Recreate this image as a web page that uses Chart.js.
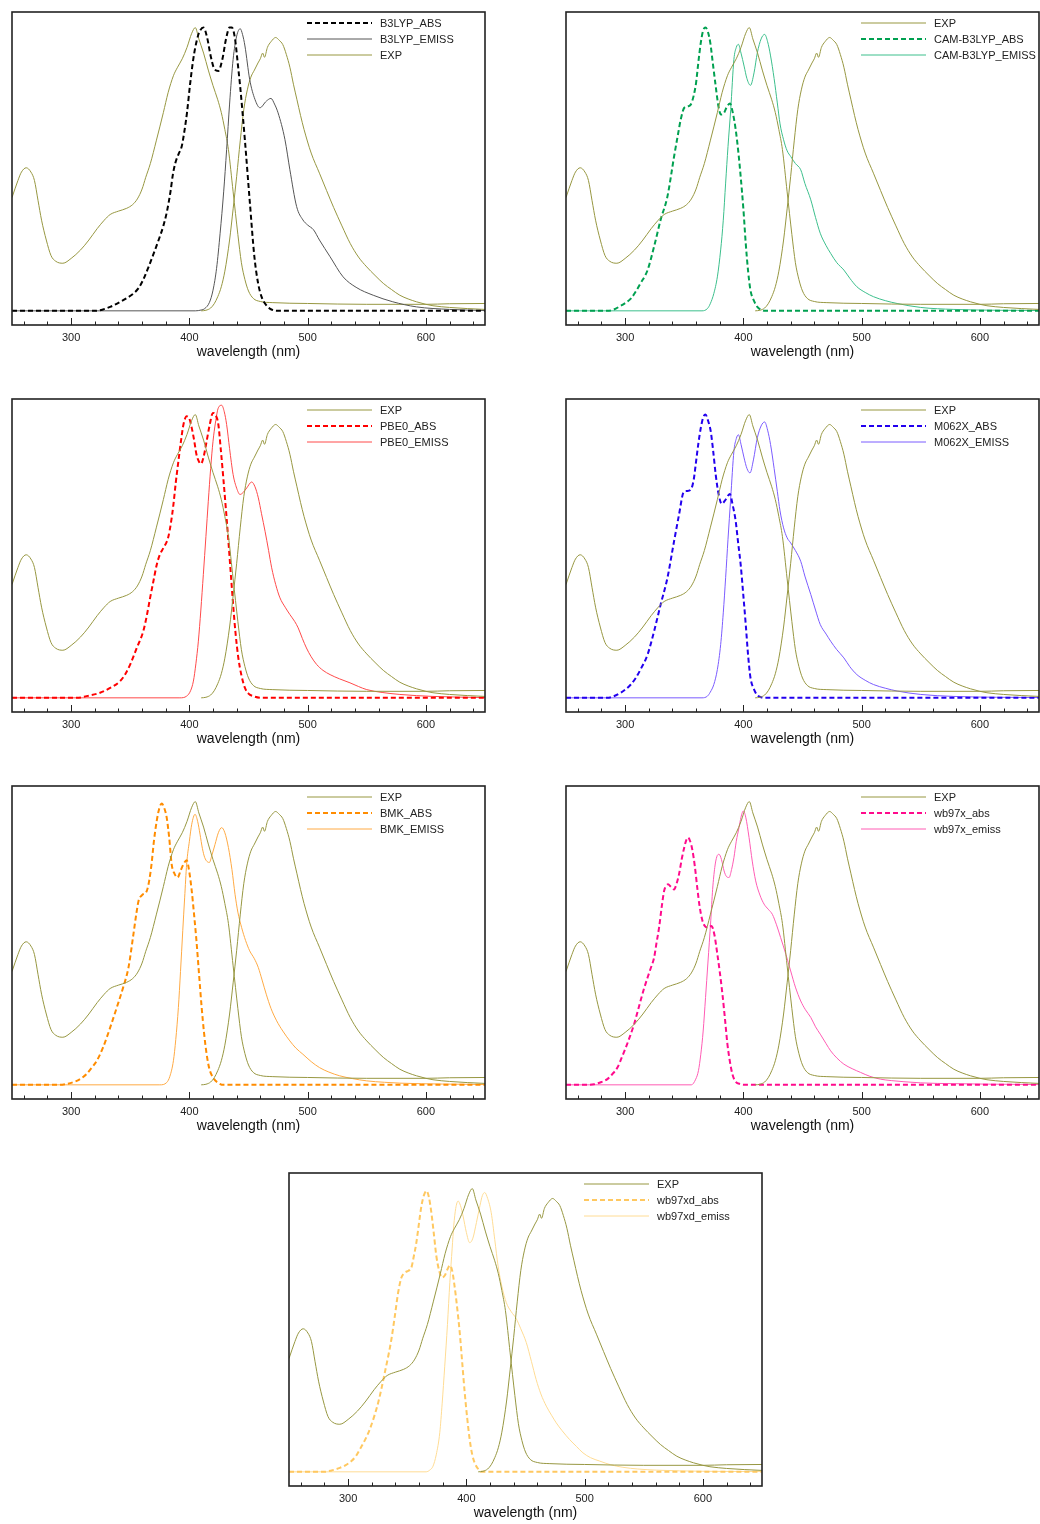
<!DOCTYPE html>
<html>
<head>
<meta charset="utf-8">
<script src="https://cdn.jsdelivr.net/npm/chart.js@4.4.1/dist/chart.umd.min.js"></script>
<style>
  html, body { margin: 0; padding: 0; background: #fff; overflow: hidden; }
  body { width: 1040px; height: 1524px; position: relative; }
  canvas { position: absolute; }
</style>
</head>
<body>
<canvas id="c1" width="493" height="371" style="left:2px;top:2px"></canvas>
<canvas id="c2" width="493" height="371" style="left:556px;top:2px"></canvas>
<canvas id="c3" width="493" height="371" style="left:2px;top:389px"></canvas>
<canvas id="c4" width="493" height="371" style="left:556px;top:389px"></canvas>
<canvas id="c5" width="493" height="371" style="left:2px;top:776px"></canvas>
<canvas id="c6" width="493" height="371" style="left:556px;top:776px"></canvas>
<canvas id="c7" width="493" height="371" style="left:279px;top:1163px"></canvas>
<script>
// axis
const xTicks = [300, 400, 500, 600];
const xMinorTicks = [260, 280, 300, 320, 340, 360, 380, 400, 420, 440, 460, 480, 500, 520, 540, 560, 580, 600, 620, 640];

// experimental spectrum (absorption + emission), [wavelength nm, normalised intensity]
const expAbs = [[250,0.40],[255,0.46],[258,0.49],[262,0.505],[266,0.49],[269,0.46],[272,0.39],[275,0.32],[279,0.25],[283,0.195],[287,0.175],[293,0.168],[300,0.185],[308,0.215],[315,0.25],[322,0.29],[328,0.32],[333,0.34],[340,0.352],[347,0.362],[352,0.375],[356,0.395],[360,0.43],[363,0.47],[367,0.52],[372,0.6],[378,0.7],[382,0.77],[386.5,0.83],[390,0.86],[394,0.89],[398,0.93],[402,0.98],[405,1.0],[408,0.96],[412,0.91],[416,0.85],[420,0.795],[424,0.745],[427,0.70],[430,0.64],[433,0.57],[437,0.42],[441,0.27],[444,0.17],[447,0.11],[450,0.07],[454,0.044],[460,0.033],[470,0.029],[500,0.026],[550,0.023],[600,0.023],[620,0.025],[650,0.026]];
const expEm = [[410,0],[414,0.002],[418,0.01],[421,0.025],[424,0.05],[427,0.085],[430,0.14],[434,0.25],[437,0.36],[440,0.475],[443,0.6],[446,0.71],[449,0.78],[452,0.825],[455,0.85],[458,0.875],[460,0.89],[462,0.91],[463.5,0.895],[466,0.93],[469,0.95],[473,0.965],[476,0.955],[479,0.94],[482,0.905],[485,0.86],[488,0.8],[491,0.745],[494,0.69],[497,0.64],[503,0.557],[510,0.486],[516,0.425],[522,0.365],[529,0.3],[536,0.238],[543,0.19],[550,0.155],[557,0.125],[564,0.097],[571,0.075],[578,0.055],[585,0.042],[592,0.032],[600,0.023],[606,0.018],[620,0.012],[635,0.008],[650,0.005]];

// computed spectra
const b3lypAbs = [[250,0],[320,0],[327,0.005],[333,0.014],[340,0.028],[347,0.045],[353,0.062],[357,0.08],[361,0.11],[365,0.15],[369.6,0.2],[374,0.25],[378,0.3],[381,0.35],[384,0.42],[386,0.48],[388,0.52],[391,0.555],[393.5,0.58],[396,0.64],[398,0.7],[400.6,0.8],[403,0.88],[405,0.93],[408,0.98],[412,1.0],[415,0.965],[418,0.9],[421,0.855],[424.5,0.847],[428,0.89],[431,0.96],[434,1.0],[436,1.0],[438.6,0.96],[441,0.87],[443,0.79],[447,0.6],[451,0.39],[455,0.19],[458,0.1],[461,0.05],[465,0.02],[468,0.008],[474,0],[650,0]];
const b3lypEm = [[250,0],[405,0],[410,0.003],[413,0.008],[417,0.03],[420,0.073],[423,0.15],[426,0.274],[429,0.42],[431.5,0.569],[434,0.73],[437,0.888],[440,0.97],[443,0.996],[445,0.975],[447,0.935],[451,0.817],[455.5,0.746],[459.7,0.717],[465,0.74],[469,0.75],[472,0.73],[475,0.699],[480.8,0.605],[485,0.498],[490.7,0.368],[496,0.321],[500,0.303],[505,0.286],[510,0.25],[519,0.191],[530,0.12],[541,0.083],[555.5,0.055],[572,0.032],[592,0.014],[620,0.005],[650,0.001]];
const camAbs = [[250,0],[285,0],[290,0.004],[296,0.017],[301,0.03],[305,0.044],[309,0.068],[313,0.097],[319,0.144],[324.5,0.227],[330,0.321],[335.8,0.404],[341.4,0.545],[345,0.63],[347,0.675],[350,0.717],[353,0.722],[355.5,0.728],[358,0.76],[360,0.805],[362,0.88],[364,0.947],[366,0.99],[368,1.0],[370,0.985],[372,0.947],[374,0.88],[376.6,0.793],[379,0.72],[381,0.693],[383.7,0.699],[386,0.72],[388.7,0.732],[391,0.7],[393.5,0.64],[396,0.55],[397.7,0.475],[400,0.36],[402,0.238],[404,0.14],[406,0.073],[409,0.035],[411.8,0.014],[415,0.004],[418,0],[650,0]];
const camEm = [[250,0],[365,0],[369.6,0.008],[372,0.025],[375,0.061],[378,0.12],[380.8,0.215],[383,0.32],[385,0.451],[387,0.58],[389.3,0.711],[392,0.888],[394,0.93],[395.8,0.941],[398,0.91],[400.6,0.864],[403,0.82],[406,0.796],[409,0.84],[411.8,0.911],[415,0.96],[418,0.976],[420.5,0.95],[423,0.9],[426,0.82],[428.7,0.734],[431,0.66],[434,0.604],[437,0.565],[440,0.545],[444,0.52],[448.5,0.498],[452,0.45],[457,0.392],[461,0.33],[465,0.274],[470,0.23],[473.8,0.203],[479,0.17],[485,0.144],[490,0.115],[496,0.085],[503,0.065],[510,0.05],[520,0.036],[530,0.026],[550,0.012],[578,0.005],[650,0.001]];
const pbe0Abs = [[250,0],[305,0],[313,0.006],[324.5,0.018],[333,0.035],[341.4,0.059],[346,0.085],[350,0.118],[355.5,0.176],[361,0.235],[364,0.29],[366.8,0.353],[369.5,0.41],[372.4,0.47],[375,0.505],[378,0.529],[382,0.565],[384.5,0.62],[386.5,0.682],[388.5,0.76],[390.7,0.835],[393,0.91],[395,0.965],[397.7,0.994],[400,0.985],[402,0.953],[404,0.91],[406,0.859],[408,0.835],[409.8,0.826],[412,0.85],[414.6,0.906],[417,0.96],[420,1.006],[422,1.0],[424.5,0.965],[426.5,0.88],[428.7,0.776],[431,0.66],[433,0.553],[435,0.44],[437,0.329],[439,0.23],[441.4,0.141],[444,0.08],[447,0.035],[450,0.015],[454,0.006],[462,0],[650,0]];
const pbe0Em = [[250,0],[392,0],[397.7,0.006],[401,0.025],[403.4,0.059],[405.5,0.12],[407.6,0.2],[409.7,0.31],[411.8,0.435],[414,0.57],[416,0.694],[418,0.81],[420,0.906],[422,0.97],[424.5,1.024],[427.3,1.033],[429.5,1.01],[431.5,0.965],[434,0.88],[437,0.788],[440,0.74],[442.8,0.718],[445.5,0.725],[448.5,0.741],[452.7,0.762],[455.5,0.745],[458.3,0.706],[461,0.65],[464,0.588],[467,0.52],[469.6,0.459],[473,0.4],[476.6,0.353],[481,0.32],[485,0.294],[489,0.27],[492,0.247],[495.5,0.21],[499,0.176],[503,0.145],[507.6,0.118],[513,0.097],[519,0.082],[527,0.067],[535.8,0.053],[543,0.04],[550,0.029],[563,0.019],[578,0.012],[606,0.005],[650,0.001]];
const m062xAbs = [[250,0],[285,0],[290,0.005],[296.3,0.018],[301,0.032],[304.8,0.047],[309,0.07],[313,0.1],[319,0.153],[324.5,0.235],[330,0.329],[335.8,0.424],[341.4,0.553],[345.6,0.647],[349.3,0.724],[352,0.73],[355.5,0.735],[358,0.77],[359.7,0.824],[362,0.9],[364,0.953],[366,0.99],[368,1.0],[370,0.98],[372.4,0.941],[374.5,0.87],[376.6,0.788],[379,0.72],[381.7,0.685],[385,0.7],[388.5,0.72],[391,0.68],[393.5,0.624],[395.5,0.55],[397.7,0.471],[400,0.36],[402,0.259],[404,0.15],[406,0.071],[409,0.03],[411.8,0.009],[415,0.002],[418,0],[650,0]];
const m062xEm = [[250,0],[365,0],[369.6,0.006],[372,0.02],[375,0.047],[378,0.1],[380.8,0.188],[383,0.3],[385,0.424],[387,0.56],[389.3,0.706],[392,0.871],[394,0.915],[395.8,0.929],[398,0.895],[400.6,0.847],[403,0.81],[405.6,0.794],[408.5,0.84],[411.8,0.918],[415,0.96],[418,0.974],[420.5,0.945],[423,0.894],[426,0.81],[428.7,0.729],[431,0.66],[434,0.6],[437,0.565],[440,0.547],[444,0.52],[448.5,0.482],[452,0.43],[457,0.365],[461,0.31],[465,0.259],[470,0.225],[473.8,0.2],[479,0.17],[485,0.141],[490,0.11],[496,0.082],[503,0.062],[510,0.047],[520,0.034],[530,0.024],[550,0.012],[578,0.005],[650,0.001]];
const bmkAbs = [[250,0],[290,0],[296,0.003],[304.8,0.014],[309,0.024],[313,0.038],[317,0.058],[321.7,0.085],[327,0.132],[333,0.202],[338.6,0.273],[344,0.344],[348.5,0.414],[352.7,0.532],[355,0.6],[357,0.649],[360,0.67],[364,0.685],[366,0.72],[368,0.779],[370,0.86],[372.4,0.932],[374.5,0.975],[376.6,0.993],[378.5,0.98],[380.8,0.944],[383,0.87],[385,0.779],[387.5,0.745],[390,0.732],[392.5,0.755],[395,0.779],[397.7,0.793],[400,0.75],[402,0.685],[404,0.6],[406,0.508],[408,0.4],[410.4,0.273],[412.5,0.18],[414.6,0.108],[417,0.055],[420,0.026],[424,0.008],[429,0],[650,0]];
const bmkEm = [[250,0],[375,0],[380.8,0.008],[383.5,0.03],[386.5,0.085],[388.5,0.16],[390.7,0.273],[392.5,0.4],[394.4,0.544],[396,0.66],[397.7,0.779],[400,0.86],[402,0.92],[404.8,0.955],[407,0.93],[409,0.885],[411,0.835],[413,0.802],[416.9,0.785],[419,0.81],[421.7,0.849],[424.5,0.89],[427.3,0.908],[430,0.89],[433,0.838],[436,0.76],[438.6,0.673],[441,0.61],[444.2,0.555],[447.5,0.51],[451,0.473],[455,0.445],[458.3,0.414],[461.5,0.37],[465,0.32],[469,0.27],[473.8,0.226],[479,0.19],[485,0.155],[490,0.13],[496,0.108],[503,0.082],[510,0.061],[518,0.045],[527,0.032],[538,0.022],[550,0.014],[565,0.009],[578,0.006],[650,0.001]];
const wb97xAbs = [[250,0],[268,0],[273.8,0.002],[280,0.01],[285,0.02],[289,0.037],[293.5,0.061],[297,0.095],[300.6,0.132],[304,0.17],[307.6,0.214],[310,0.25],[313,0.296],[316,0.34],[319,0.379],[321.5,0.41],[324.5,0.449],[326.5,0.5],[328.7,0.555],[331,0.63],[333,0.685],[334.8,0.703],[336.3,0.708],[338.5,0.7],[341.4,0.69],[343.5,0.71],[345.6,0.744],[348,0.8],[350,0.838],[351.8,0.865],[353.2,0.873],[355,0.86],[357,0.826],[359,0.77],[361,0.696],[363,0.63],[365.4,0.579],[367.5,0.56],[369.6,0.555],[371.5,0.558],[373,0.561],[375.5,0.53],[378,0.461],[380,0.4],[382.3,0.32],[384.5,0.23],[386.5,0.144],[388.5,0.085],[390.7,0.038],[393,0.014],[397.7,0.002],[400,0],[650,0]];
const wb97xEm = [[250,0],[356,0],[359.7,0.02],[362,0.05],[364,0.108],[366,0.19],[368,0.308],[370,0.43],[372.4,0.579],[374,0.69],[375.8,0.767],[377.5,0.805],[379.4,0.814],[381.5,0.795],[383.7,0.755],[385.8,0.735],[387.9,0.732],[390,0.76],[392,0.802],[394,0.86],[396.3,0.908],[398,0.945],[400,0.967],[402,0.945],[404.8,0.873],[407.5,0.79],[410.4,0.72],[414,0.67],[417.5,0.638],[421,0.62],[424.5,0.602],[428,0.565],[431.5,0.52],[436,0.46],[440,0.402],[444,0.345],[448.5,0.296],[452.5,0.265],[457,0.238],[461,0.205],[465,0.179],[470,0.145],[473.8,0.12],[479,0.095],[485,0.073],[492,0.057],[499,0.044],[507,0.03],[516,0.02],[525,0.015],[535.8,0.011],[550,0.007],[564,0.005],[650,0.001]];
const wb97xdAbs = [[250,0],[280,0],[286,0.005],[293,0.014],[298,0.024],[302.8,0.038],[306.5,0.055],[309.9,0.079],[314,0.11],[318.3,0.15],[322,0.195],[325.4,0.244],[328.5,0.3],[331,0.35],[334,0.41],[336.6,0.468],[339.5,0.55],[342.3,0.633],[345,0.685],[347.9,0.703],[351,0.71],[353.5,0.721],[355.5,0.76],[357.7,0.809],[360,0.88],[362,0.939],[364,0.975],[366.2,0.992],[368.3,0.97],[370.4,0.915],[372.5,0.84],[374.6,0.762],[377,0.71],[379.4,0.686],[382,0.695],[384,0.715],[386,0.729],[388,0.71],[390,0.656],[392.2,0.58],[394.4,0.491],[396.5,0.385],[398.6,0.279],[400.7,0.19],[402.8,0.114],[405,0.06],[407,0.032],[410,0.01],[413,0],[650,0]];
const wb97xdEm = [[250,0],[366,0],[369,0.006],[371.8,0.02],[374.5,0.06],[377.5,0.138],[379.5,0.24],[381.7,0.373],[384,0.52],[386,0.668],[388,0.79],[389.3,0.868],[391,0.93],[393,0.956],[395,0.94],[397.2,0.903],[400,0.845],[402.8,0.809],[405.5,0.825],[408.5,0.88],[411.5,0.94],[413.5,0.975],[415.5,0.986],[418,0.965],[421,0.915],[424,0.82],[426.8,0.727],[430,0.655],[433.8,0.597],[438,0.565],[442,0.542],[446,0.505],[450.7,0.456],[455,0.39],[459,0.326],[463,0.275],[467.6,0.232],[472,0.2],[476,0.173],[481,0.145],[487.3,0.114],[493,0.09],[498.6,0.067],[505,0.05],[512.7,0.038],[522,0.025],[532.4,0.016],[545,0.01],[560.6,0.006],[600,0.002],[650,0.001]];

const FONT = "'Liberation Sans', Arial, Helvetica, sans-serif";
const EXP_COLOR = "#979741";

function toXY(arr) {
  return arr.map(p => ({ x: p[0], y: p[1] }));
}

function expSets() {
  return [
    { label: "EXP", data: toXY(expAbs), borderColor: EXP_COLOR, borderWidth: 1 },
    { label: "EXP", data: toXY(expEm), borderColor: EXP_COLOR, borderWidth: 1 }
  ];
}

function calcSets(name, abs, em, absColor, emColor) {
  return [
    { label: name + "_ABS", data: toXY(abs), borderColor: absColor, borderWidth: 2, borderDash: [5, 3] },
    { label: name + "_EMISS", data: toXY(em), borderColor: emColor, borderWidth: 1 }
  ];
}

// legend drawn inside the plot box, top right
const insideLegend = {
  id: "insideLegend",
  afterDraw(chart) {
    const ctx = chart.ctx;
    const area = chart.chartArea;
    const seen = [];
    const items = [];
    chart.data.datasets.forEach(ds => {
      if (seen.indexOf(ds.label) < 0) { seen.push(ds.label); items.push(ds); }
    });
    ctx.save();
    items.forEach((ds, i) => {
      const y = area.top + 11 + i * 16;
      ctx.beginPath();
      ctx.setLineDash(ds.borderDash || []);
      ctx.lineWidth = ds.borderWidth;
      ctx.strokeStyle = ds.borderColor;
      ctx.moveTo(area.right - 178, y);
      ctx.lineTo(area.right - 113, y);
      ctx.stroke();
      ctx.setLineDash([]);
      ctx.fillStyle = "#222";
      ctx.font = "11px " + FONT;
      ctx.textBaseline = "middle";
      ctx.textAlign = "left";
      ctx.fillText(ds.displayName || ds.label, area.right - 105, y + 0.5);
    });
    ctx.restore();
  }
};

// frame and inward tick marks
const frameTicks = {
  id: "frameTicks",
  afterDraw(chart) {
    const ctx = chart.ctx;
    const area = chart.chartArea;
    const xs = chart.scales.x;
    ctx.save();
    ctx.strokeStyle = "#222";
    ctx.lineWidth = 1;
    xMinorTicks.forEach(v => {
      const px = Math.round(xs.getPixelForValue(v)) + 0.5;
      const len = xTicks.indexOf(v) >= 0 ? 7 : 3.5;
      ctx.beginPath();
      ctx.moveTo(px, area.bottom);
      ctx.lineTo(px, area.bottom - len);
      ctx.stroke();
    });
    ctx.lineWidth = 1.6;
    ctx.strokeRect(area.left, area.top, area.right - area.left, area.bottom - area.top);
    ctx.restore();
  }
};

function makeChart(id, datasets) {
  datasets.forEach(ds => {
    ds.pointRadius = 0;
    ds.fill = false;
    ds.cubicInterpolationMode = "monotone";
  });
  return new Chart(document.getElementById(id).getContext("2d"), {
    type: "line",
    data: { datasets: datasets },
    options: {
      responsive: false,
      animation: false,
      events: [],
      layout: { padding: { left: 10, right: 10, top: 10, bottom: 0 } },
      plugins: { legend: { display: false }, tooltip: { enabled: false } },
      scales: {
        x: {
          type: "linear",
          min: 250,
          max: 650,
          grid: { display: false, drawTicks: false },
          border: { display: false },
          afterBuildTicks: axis => { axis.ticks = xTicks.map(v => ({ value: v })); },
          afterFit: axis => { axis.height = 48; },
          ticks: { padding: 6, color: "#222", font: { family: FONT, size: 11 } },
          title: {
            display: true,
            text: "wavelength (nm)",
            color: "#111",
            font: { family: FONT, size: 14 },
            padding: { top: 0, bottom: 12 }
          }
        },
        y: { display: false, min: -0.05, max: 1.055 }
      }
    },
    plugins: [frameTicks, insideLegend]
  });
}

Chart.defaults.font.family = FONT;

makeChart("c1", calcSets("B3LYP", b3lypAbs, b3lypEm, "#000000", "#555555").concat(expSets()));
makeChart("c2", expSets().concat(calcSets("CAM-B3LYP", camAbs, camEm, "#00a050", "#3cbf8c")));
makeChart("c3", expSets().concat(calcSets("PBE0", pbe0Abs, pbe0Em, "#ff0000", "#ff4a4a")));
makeChart("c4", expSets().concat(calcSets("M062X", m062xAbs, m062xEm, "#2200ee", "#7b5cff")));
makeChart("c5", expSets().concat(calcSets("BMK", bmkAbs, bmkEm, "#ff8c00", "#ffaa44")));

const wbx = calcSets("wb97x", wb97xAbs, wb97xEm, "#ff0a8c", "#ff5cb4");
wbx[0].label = "wb97x_abs"; wbx[1].label = "wb97x_emiss";
makeChart("c6", expSets().concat(wbx));

const wbxd = calcSets("wb97xd", wb97xdAbs, wb97xdEm, "#ffc860", "#ffdc94");
wbxd[0].label = "wb97xd_abs"; wbxd[1].label = "wb97xd_emiss";
makeChart("c7", expSets().concat(wbxd));
</script>
</body>
</html>
